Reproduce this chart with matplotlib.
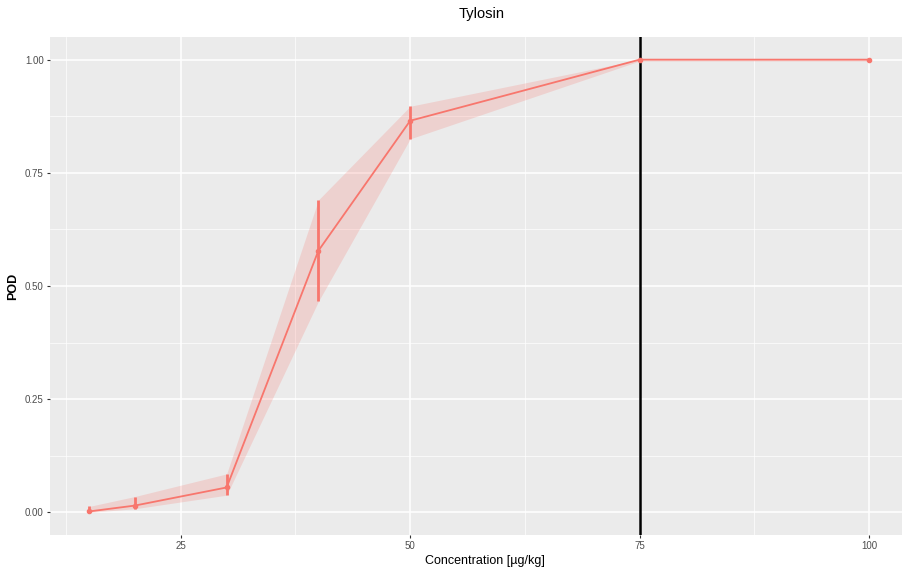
import matplotlib.pyplot as plt
from matplotlib.ticker import MultipleLocator

plt.rcParams["font.family"] = ["Liberation Sans", "DejaVu Sans"]

# POD curve for Tylosin
conc = [15, 20, 30, 40, 50, 75, 100]
pod = [0.002, 0.015, 0.055, 0.578, 0.865, 1.0, 1.0]
pod_low = [0.0, 0.008, 0.038, 0.466, 0.825, 0.997, 0.997]
pod_high = [0.013, 0.035, 0.085, 0.690, 0.897, 1.0, 1.0]
cutoff = 75
x_ticks = [25, 50, 75, 100]
y_ticks = [0.0, 0.25, 0.5, 0.75, 1.0]

red = "#F8766D"

fig = plt.figure(figsize=(9.03, 5.78), dpi=100)
# panel runs past the right edge of the figure
ax = fig.add_axes([50 / 903, 1 - 535 / 578, 870 / 903, 498 / 578])
ax.set_facecolor("#EBEBEB")

ax.fill_between(conc, pod_low, pod_high, color=red, alpha=0.22, linewidth=0)
ax.plot(conc, pod, color=red, lw=1.3)
err_lo = [p - l for p, l in zip(pod, pod_low)]
err_hi = [h - p for p, h in zip(pod, pod_high)]
ax.errorbar(conc, pod, yerr=[err_lo, err_hi], fmt="o", color=red,
            ms=3, elinewidth=2, capsize=0)
ax.axvline(cutoff, color="black", lw=1.8)

ax.set_xlim(10.75, 105.56)
ax.set_ylim(-0.05, 1.05)
ax.set_xticks(x_ticks)
ax.set_yticks(y_ticks)
ax.set_yticklabels([f"{v:.2f}" for v in y_ticks])
ax.xaxis.set_minor_locator(MultipleLocator(12.5))
ax.yaxis.set_minor_locator(MultipleLocator(0.125))
ax.grid(which="major", color="white", lw=1.1)
ax.grid(which="minor", color="white", lw=0.5)
ax.set_axisbelow(True)
for s in ax.spines.values():
    s.set_visible(False)
ax.tick_params(which="major", length=2.5, color="#333333", labelsize=7,
               labelcolor="#4D4D4D", pad=2)
ax.tick_params(which="minor", length=0)

fig.text(482 / 903, 1 - 14 / 578, "Tylosin", fontsize=10.5, ha="center", va="center")
ax.set_xlabel("Concentration [µg/kg]", fontsize=9, labelpad=3)
ax.set_ylabel("POD", fontsize=9, fontweight="bold", labelpad=4)

fig.savefig("out.png", dpi=100)
